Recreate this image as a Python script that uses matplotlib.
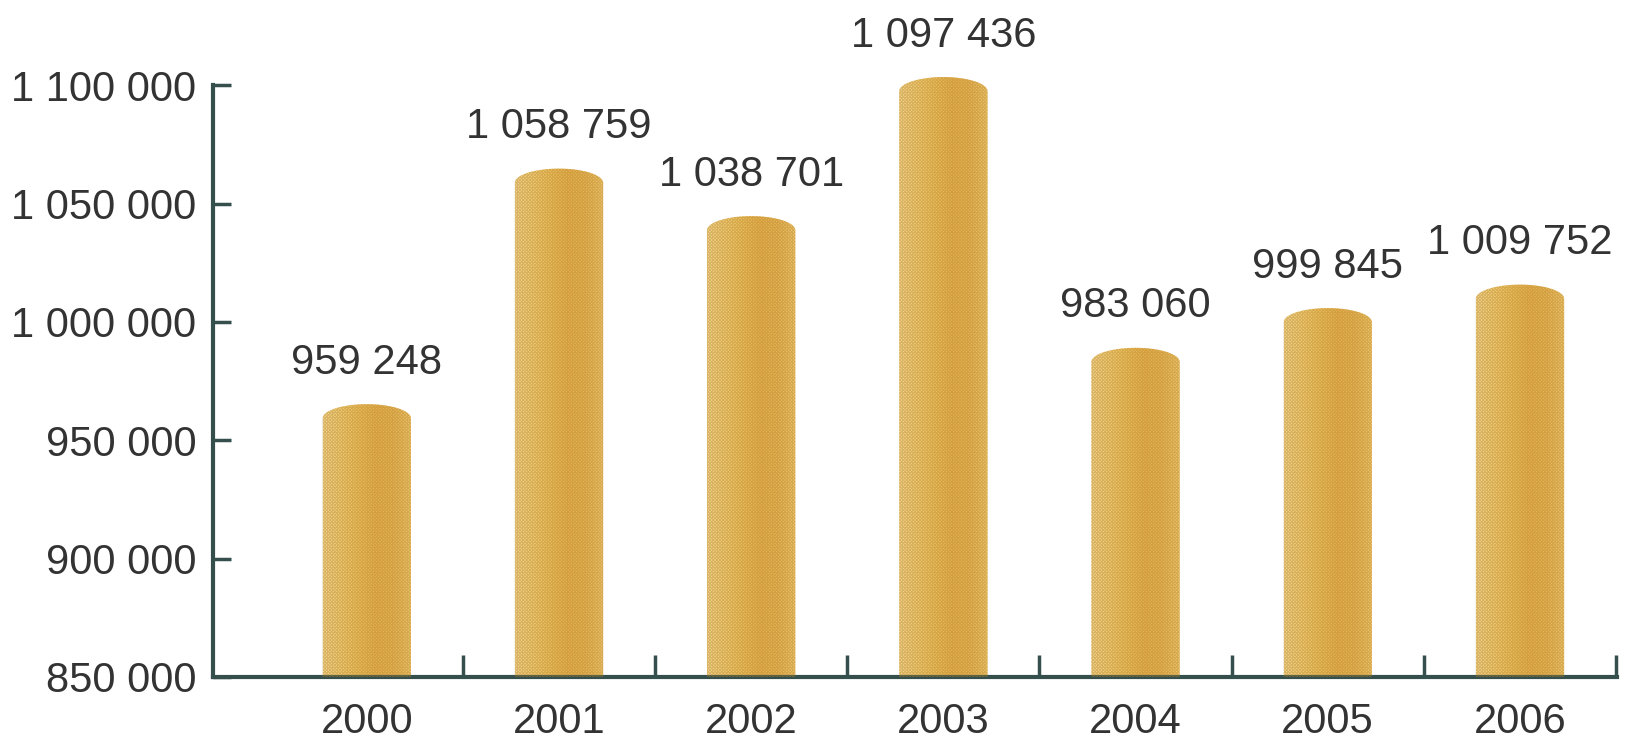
import numpy as np
import matplotlib
matplotlib.use("Agg")
import matplotlib.pyplot as plt
from matplotlib.path import Path
from matplotlib.patches import PathPatch
from matplotlib.colors import LinearSegmentedColormap

# ---- data ----
years = ["2000", "2001", "2002", "2003", "2004", "2005", "2006"]
values = [959248, 1058759, 1038701, 1097436, 983060, 999845, 1009752]
value_labels = ["959 248", "1 058 759", "1 038 701", "1 097 436", "983 060", "999 845", "1 009 752"]
ytick_values = [850000, 900000, 950000, 1000000, 1050000, 1100000]
ytick_labels = ["850 000", "900 000", "950 000", "1 000 000", "1 050 000", "1 100 000"]

FONT = ["Liberation Sans", "DejaVu Sans"]
FS = 30
AXC = "#35504c"
TXT = "#333333"
plt.rcParams["hatch.linewidth"] = 0.8

fig = plt.figure(figsize=(16.25, 7.55), dpi=100)
fig.patch.set_facecolor("white")
ax = fig.add_axes([213/1625, 78/755, (1617-213)/1625, 677/755])

base = ytick_values[0]
ymax = 1136000

bar_w = 0.46
cap = 6000  # rounded top height (data units)
cmap = LinearSegmentedColormap.from_list(
    "gold", ["#f6dc98", "#f4d27c", "#efc462", "#e8b553", "#eab95a", "#f2cc74"])
grad = np.linspace(0, 1, 256).reshape(1, -1)

x = np.arange(len(years))
for xi, v, lab in zip(x, values, value_labels):
    left, right = xi - bar_w/2, xi + bar_w/2
    t = np.linspace(np.pi, 0, 40)
    arc_x = xi + (bar_w/2) * np.cos(t)
    arc_y = v + cap * np.sin(t)
    verts = [(left, base)] + list(zip(arc_x, arc_y)) + [(right, base), (left, base)]
    codes = [Path.MOVETO] + [Path.LINETO] * (len(verts) - 2) + [Path.CLOSEPOLY]
    path = Path(verts, codes)
    clip = PathPatch(path, facecolor="none", edgecolor="none", transform=ax.transData)
    ax.add_patch(clip)
    im = ax.imshow(grad, cmap=cmap, aspect="auto", extent=(left, right, base, v + cap),
                   origin="lower", zorder=2, interpolation="bilinear")
    im.set_clip_path(clip)
    hatch = PathPatch(path, facecolor="none", edgecolor="#b8842a", lw=0,
                      hatch="xxxxxxxxxx", alpha=0.45, zorder=3)
    ax.add_patch(hatch)
    ax.annotate(lab, (xi, v), xytext=(0, 40), textcoords="offset points",
                ha="center", va="center", fontsize=FS, color=TXT, family=FONT)

ax.set_ylim(base, ymax)
ax.set_xlim(-0.80, 6.505)

# spines
for s in ["top", "right"]:
    ax.spines[s].set_visible(False)
for s in ["left", "bottom"]:
    ax.spines[s].set_color(AXC)
    ax.spines[s].set_linewidth(3)
    ax.spines[s].set_capstyle("projecting")
ax.spines["left"].set_bounds(base, ytick_values[-1])

ax.set_yticks(ytick_values, labels=ytick_labels)
ax.tick_params(axis="y", direction="in", length=13, width=2.5, color=AXC,
               pad=12, labelsize=FS, labelcolor=TXT)
for t in ax.get_yticklabels():
    t.set_family(FONT)

ax.set_xticks(x + 0.5)
ax.set_xticklabels([])
ax.tick_params(axis="x", which="major", direction="in", length=16, width=2.5, color=AXC)
ax.set_xticks(x, labels=years, minor=True)
ax.tick_params(axis="x", which="minor", length=0, pad=18, labelsize=FS, labelcolor=TXT)
for t in ax.get_xticklabels(minor=True):
    t.set_family(FONT)

ax.set_facecolor("none")
fig.savefig("out.png", dpi=100, facecolor="white")
